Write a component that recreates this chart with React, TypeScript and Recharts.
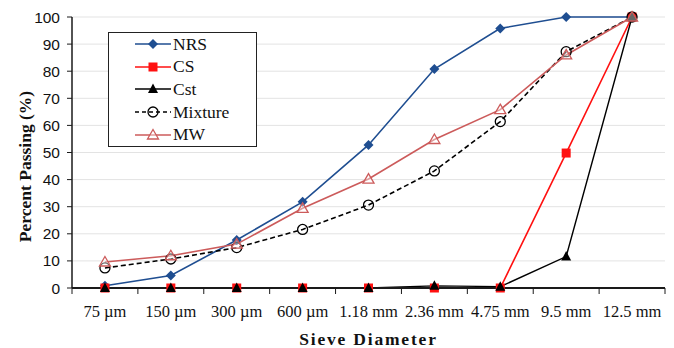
import React from "react";
import {
  CartesianGrid,
  Line,
  LineChart,
  XAxis,
  YAxis,
} from "recharts";

// Sieve sizes and percent passing per material
const sieves = ["75 µm", "150 µm", "300 µm", "600 µm", "1.18 mm", "2.36 mm", "4.75 mm", "9.5 mm", "12.5 mm"];
const nrs = [0.8, 4.6, 17.7, 31.8, 52.8, 80.8, 95.8, 100, 100];
const cs = [0, 0, 0, 0, 0, 0, 0, 49.8, 100];
const cst = [0, 0, 0, 0, 0, 0.8, 0.5, 11.6, 100];
const mixture = [7.4, 10.7, 14.9, 21.6, 30.6, 43.2, 61.4, 87.2, 100];
const mw = [9.6, 11.9, 16.2, 29.4, 40.2, 54.8, 65.8, 86, 100];
const yTicks = [0, 10, 20, 30, 40, 50, 60, 70, 80, 90, 100];

const C = {
  nrs: "#1F4E91",
  cs: "#FF1010",
  cst: "#000000",
  mix: "#000000",
  mw: "#CC5B5B",
  grid: "#E3E3E3",
  axis: "#1a1a1a",
};

const serif = "'Liberation Serif', 'Times New Roman', serif";
const sans = "'Liberation Sans', Arial, sans-serif";

const data = sieves.map((s, i) => ({
  sieve: s,
  NRS: nrs[i],
  CS: cs[i],
  Cst: cst[i],
  Mixture: mixture[i],
  MW: mw[i],
}));

type Shape = "diamond" | "square" | "triangle" | "circle" | "openTriangle";

function Marker({ shape, cx, cy, color }: { shape: Shape; cx: number; cy: number; color: string }) {
  switch (shape) {
    case "diamond":
      return <polygon points={`${cx},${cy - 5} ${cx + 5},${cy} ${cx},${cy + 5} ${cx - 5},${cy}`} fill={color} />;
    case "square":
      return <rect x={cx - 4.5} y={cy - 4.5} width={9} height={9} fill={color} />;
    case "triangle":
      return <polygon points={`${cx},${cy - 5.5} ${cx + 5},${cy + 4} ${cx - 5},${cy + 4}`} fill={color} />;
    case "openTriangle":
      return (
        <polygon
          points={`${cx},${cy - 5.5} ${cx + 5.5},${cy + 4} ${cx - 5.5},${cy + 4}`}
          fill="#fff"
          fillOpacity={0.4}
          stroke={color}
          strokeWidth={1.3}
        />
      );
    case "circle":
      return <circle cx={cx} cy={cy} r={5} fill="none" stroke={color} strokeWidth={1.3} />;
  }
}

const dotFor = (shape: Shape, color: string) => (p: any) =>
  <Marker key={`${shape}-${p.index}`} shape={shape} cx={p.cx} cy={p.cy} color={color} />;

const legendItems: { name: string; color: string; shape: Shape; dash?: string }[] = [
  { name: "NRS", color: C.nrs, shape: "diamond" },
  { name: "CS", color: C.cs, shape: "square" },
  { name: "Cst", color: C.cst, shape: "triangle" },
  { name: "Mixture", color: C.mix, shape: "circle", dash: "4 3" },
  { name: "MW", color: C.mw, shape: "openTriangle" },
];

function LegendBox() {
  return (
    <div
      style={{
        position: "absolute",
        left: 108,
        top: 32,
        width: 149,
        height: 115,
        border: "1px solid #222",
        background: "#fff",
        boxSizing: "border-box",
        paddingTop: 0,
      }}
    >
      {legendItems.map((it) => (
        <div key={it.name} style={{ display: "flex", alignItems: "center", height: 22.6 }}>
          <svg width={64} height={14} style={{ flex: "none" }}>
            <line x1={26} x2={62} y1={7} y2={7} stroke={it.color} strokeWidth={1.6} strokeDasharray={it.dash} />
            <Marker shape={it.shape} cx={44} cy={7} color={it.color} />
          </svg>
          <span style={{ fontFamily: serif, fontSize: 17.5, color: "#111", lineHeight: "17px" }}>{it.name}</span>
        </div>
      ))}
    </div>
  );
}

// Category labels at band centers, tick marks at band edges
function SieveTick(props: any) {
  const { x, y, payload, index, visibleTicksCount } = props;
  const half = payload.offset || 593 / 9 / 2;
  const last = index === (visibleTicksCount ?? sieves.length) - 1;
  return (
    <g>
      <line x1={x - half} x2={x - half} y1={y - 8} y2={y - 2} stroke={C.axis} strokeWidth={1} />
      {last && <line x1={x + half} x2={x + half} y1={y - 8} y2={y - 2} stroke={C.axis} strokeWidth={1} />}
      <text x={x} y={y + 21} textAnchor="middle" fontFamily={serif} fontSize={16.5} fill="#111">
        {payload.value}
      </text>
    </g>
  );
}

// Rotated y title, sitting a little below the plot's middle
function YTitle({ viewBox }: any) {
  const x = viewBox.x + 25;
  const y = viewBox.y + viewBox.height / 2 + 14;
  return (
    <text
      x={x}
      y={y}
      transform={`rotate(-90 ${x} ${y})`}
      textAnchor="middle"
      dominantBaseline="central"
      fontFamily={serif}
      fontSize={17.5}
      fontWeight={700}
      fill="#111"
    >
      Percent Passing (%)
    </text>
  );
}

export default function App() {
  return (
    <div style={{ position: "absolute", left: 0, top: 0, width: 674, height: 348, background: "#fff" }}>
      <LineChart width={674} height={348} data={data} margin={{ top: 17, right: 9, left: 0, bottom: 0 }}>
        <CartesianGrid stroke={C.grid} vertical={false} />
        <XAxis
          dataKey="sieve"
          scale="band"
          height={60}
          interval={0}
          axisLine={{ stroke: C.axis, strokeWidth: 2 }}
          tickLine={false}
          tick={<SieveTick />}
          label={{
            value: "Sieve Diameter",
            position: "insideBottom",
            offset: 3,
            style: { fontFamily: serif, fontSize: 17.5, fontWeight: 700, letterSpacing: 1.8, fill: "#111" },
          }}
        />
        <XAxis xAxisId="top" orientation="top" dataKey="sieve" scale="band" height={0} tick={false} tickLine={false} axisLine={{ stroke: "#333" }} />
        <YAxis
          width={72}
          domain={[0, 100]}
          ticks={yTicks}
          interval={0}
          axisLine={{ stroke: C.axis, strokeWidth: 1.5 }}
          tickLine={{ stroke: C.axis }}
          tickSize={5}
          tickMargin={7}
          tick={{ fontFamily: sans, fontSize: 15.5, fill: "#111" }}
          label={<YTitle />}
        />
        <YAxis yAxisId="right" orientation="right" width={0} domain={[0, 100]} tick={false} tickLine={false} axisLine={{ stroke: "#333" }} />
        <Line dataKey="NRS" stroke={C.nrs} strokeWidth={1.6} dot={dotFor("diamond", C.nrs)} isAnimationActive={false} />
        <Line dataKey="CS" stroke={C.cs} strokeWidth={1.6} dot={dotFor("square", C.cs)} isAnimationActive={false} />
        <Line dataKey="Cst" stroke={C.cst} strokeWidth={1.4} dot={dotFor("triangle", C.cst)} isAnimationActive={false} />
        <Line
          dataKey="Mixture"
          stroke={C.mix}
          strokeWidth={1.6}
          strokeDasharray="5 3"
          dot={dotFor("circle", C.mix)}
          isAnimationActive={false}
        />
        <Line dataKey="MW" stroke={C.mw} strokeWidth={1.6} dot={dotFor("openTriangle", C.mw)} isAnimationActive={false} />
      </LineChart>
      <LegendBox />
    </div>
  );
}
